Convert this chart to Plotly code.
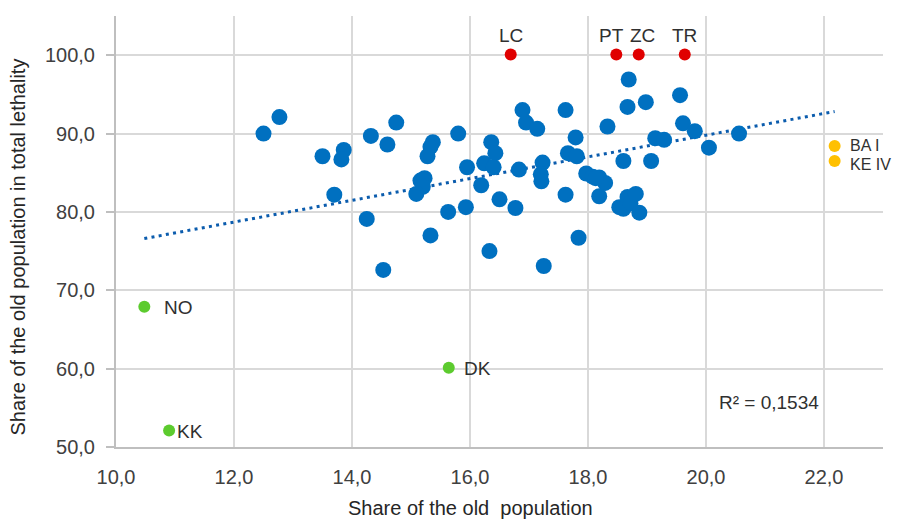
import numpy as np
import plotly.graph_objects as go

# ---- data ----
blue_x = [12.50, 12.77, 13.50, 13.86, 13.82, 13.70, 14.32, 14.60, 14.75, 14.25,
          14.53, 15.37, 15.33, 15.28, 15.16, 15.23, 15.20, 15.09, 15.33, 15.63,
          15.80, 15.95, 15.93, 16.24, 16.19, 16.36, 16.43, 16.40, 16.50, 16.77,
          16.33, 16.83, 16.89, 16.95, 17.14, 17.23, 17.20, 17.21, 17.25, 17.62,
          17.79, 17.66, 17.81, 17.62, 17.84, 17.97, 18.08, 18.19, 18.29, 18.19,
          18.33, 18.60, 18.69, 18.67, 18.98, 19.07, 18.53, 18.60, 18.67, 18.72,
          18.81, 18.87, 19.14, 19.29, 19.56, 19.61, 19.81, 20.05, 20.56, 18.13]
blue_y = [90.0, 92.1, 87.1, 87.9, 86.7, 82.2, 89.7, 88.6, 91.4, 79.1,
          72.6, 88.9, 88.3, 87.1, 84.0, 84.3, 83.2, 82.3, 77.0, 80.0,
          90.0, 85.7, 80.6, 86.2, 83.4, 88.9, 87.5, 85.7, 81.6, 80.5,
          75.0, 85.4, 93.0, 91.4, 90.6, 86.3, 84.8, 83.9, 73.1, 93.0,
          89.5, 87.5, 87.1, 82.2, 76.7, 84.9, 84.5, 84.4, 83.7, 82.0,
          90.9, 86.5, 96.9, 93.4, 94.0, 86.5, 80.6, 80.4, 81.9, 81.1,
          82.3, 79.9, 89.4, 89.2, 94.9, 91.3, 90.3, 88.2, 90.0, 84.3]

red_x = [16.69, 18.48, 18.86, 19.64]
red_y = [100.1, 100.1, 100.1, 100.1]
red_labels = ["LC", "PT", "ZC", "TR"]

green_x = [10.48, 10.90, 15.64]
green_y = [67.9, 52.1, 60.1]
green_labels = ["NO", "KK", "DK"]

orange_x = [22.18, 22.18]
orange_y = [88.4, 86.5]
orange_labels = ["BA I", "KE IV"]

r2_text = "R² = 0,1534"
x_title = "Share of the old  population"
y_title = "Share of the old population in total lethality"

# ---- linear trend over all points ----
all_x = np.array(blue_x + red_x + green_x + orange_x)
all_y = np.array(blue_y + red_y + green_y + orange_y)
slope, intercept = np.polyfit(all_x, all_y, 1)
tx = np.array([all_x.min(), all_x.max()])
ty = slope * tx + intercept

FONT = "Liberation Sans"
TXT = "#303030"

fig = go.Figure()
fig.add_trace(go.Scatter(x=tx, y=ty, mode="lines",
                         line=dict(color="#0B5CAD", width=3, dash="3px,4.3px"),
                         hoverinfo="skip"))
fig.add_trace(go.Scatter(x=blue_x, y=blue_y, mode="markers",
                         marker=dict(color="#0070C0", size=16, line=dict(width=0))))
fig.add_trace(go.Scatter(x=red_x, y=red_y, mode="markers",
                         marker=dict(color="#E00000", size=12, line=dict(width=0))))
fig.add_trace(go.Scatter(x=green_x, y=green_y, mode="markers",
                         marker=dict(color="#5CCB2E", size=12, line=dict(width=0))))
fig.add_trace(go.Scatter(x=orange_x, y=orange_y, mode="markers", cliponaxis=False,
                         marker=dict(color="#FFC000", size=12, line=dict(width=0))))

annotations = []
# labels of the highlighted points (small pixel shifts to avoid collisions, as in the reference)
red_shift = [0, -5, 4, 0]
for x, y, t, s in zip(red_x, red_y, red_labels, red_shift):
    annotations.append(dict(text=t, x=x, y=y, xref="x", yref="y", showarrow=False,
                            xanchor="center", yanchor="bottom", xshift=s, yshift=6,
                            font=dict(family=FONT, size=19, color=TXT)))
green_shift = [18, 6, 13]
for x, y, t, s in zip(green_x, green_y, green_labels, green_shift):
    annotations.append(dict(text=t, x=x, y=y, xref="x", yref="y", showarrow=False,
                            xanchor="left", yanchor="middle", xshift=s, yshift=-1,
                            font=dict(family=FONT, size=19, color=TXT)))
orange_yshift = [1, -4]
for x, y, t, s in zip(orange_x, orange_y, orange_labels, orange_yshift):
    annotations.append(dict(text=t, x=x, y=y, xref="x", yref="y", showarrow=False,
                            xanchor="left", yanchor="middle", xshift=13, yshift=s,
                            font=dict(family=FONT, size=16, color=TXT)))

annotations += [
    dict(text=r2_text, x=21.07, y=55.7, xref="x", yref="y", showarrow=False,
         font=dict(family=FONT, size=19, color=TXT)),
    dict(text=x_title, x=0.4616, y=-0.142, xref="paper", yref="paper",
         showarrow=False, xanchor="center", yanchor="middle",
         font=dict(family=FONT, size=20, color="#262626")),
    dict(text=y_title, x=-0.1273, y=0.4637, xref="paper", yref="paper",
         showarrow=False, textangle=-90, xanchor="center", yanchor="middle",
         font=dict(family=FONT, size=20, color="#262626")),
]

fig.update_layout(
    width=897, height=520,
    margin=dict(l=116, r=14, t=16, b=73),
    paper_bgcolor="white", plot_bgcolor="white",
    showlegend=False,
    separators=",.",
    font=dict(family=FONT, size=20, color=TXT),
    xaxis=dict(range=[10, 23], dtick=2, tick0=10, tickformat=".1f",
               showgrid=True, gridcolor="#D9D9D9", gridwidth=2,
               showline=True, linecolor="#BFBFBF", linewidth=2,
               zeroline=False, ticks="", ticklabelstandoff=11,
               tickfont=dict(family=FONT, size=20, color="#404040")),
    yaxis=dict(range=[50, 105], dtick=10, tick0=50, tickformat=".1f",
               showgrid=True, gridcolor="#D9D9D9", gridwidth=2,
               showline=True, linecolor="#BFBFBF", linewidth=2,
               zeroline=False, ticks="outside", ticklen=8, tickwidth=2,
               tickcolor="#BFBFBF", ticklabelstandoff=7,
               tickfont=dict(family=FONT, size=20, color="#404040")),
    annotations=annotations,
)

fig.write_html("out.html")
